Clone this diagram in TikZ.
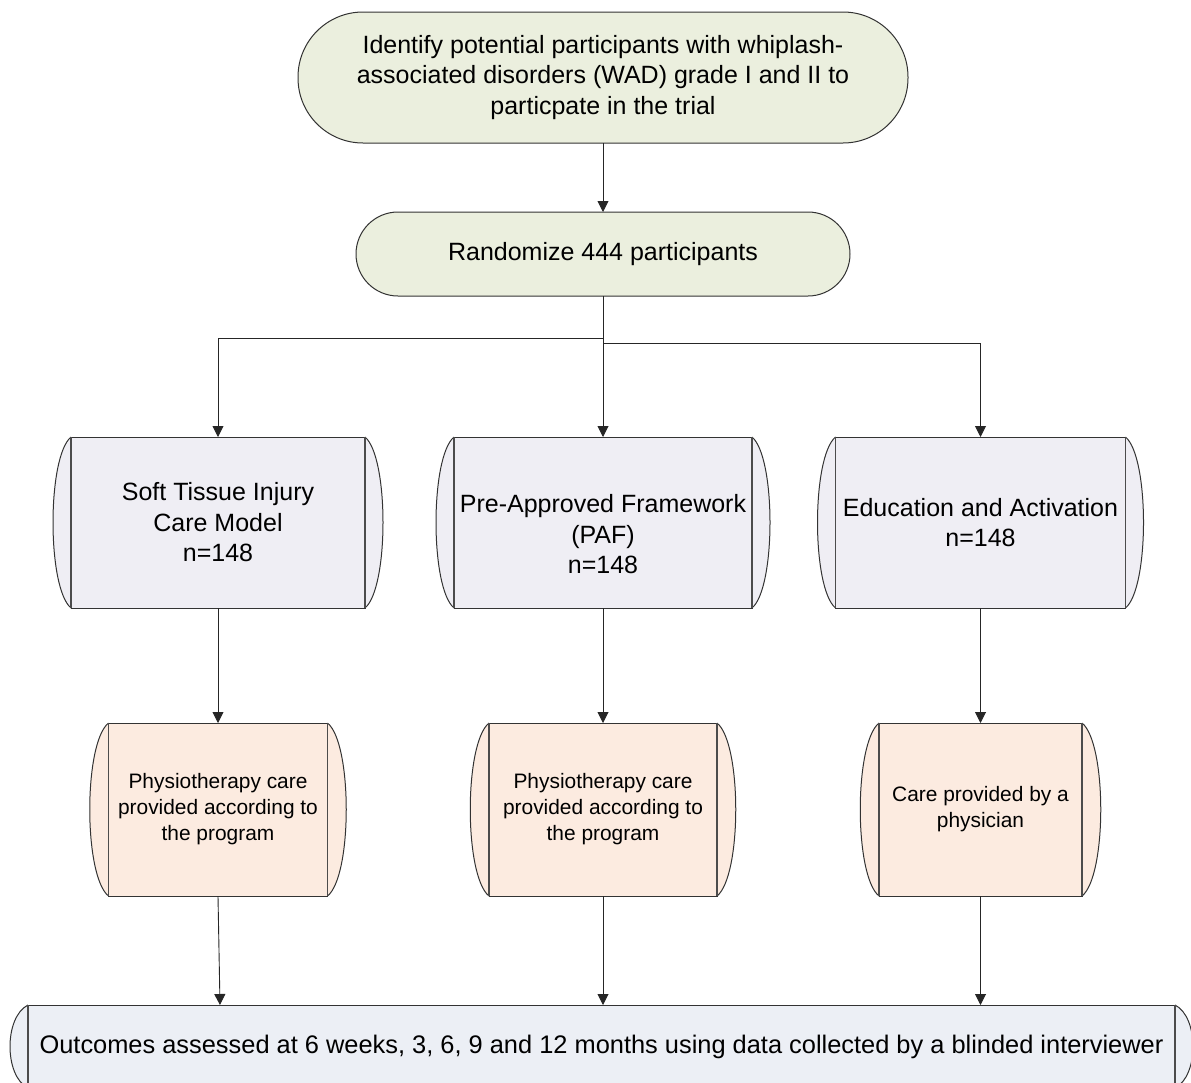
\documentclass[tikz,border=0pt]{standalone}
\usepackage{fontspec}
\setmainfont{Liberation Sans}
\usepackage{tikz}
\usetikzlibrary{arrows.meta}

\definecolor{startgreen}{HTML}{EBEFDE}
\definecolor{armgrey}{HTML}{EFEEF4}
\definecolor{carepeach}{HTML}{FCEBE0}
\definecolor{outblue}{HTML}{ECEFF5}

\newcommand{\flowbig}{\fontsize{25pt}{30.5pt}\selectfont}
\newcommand{\flowsmall}{\fontsize{20.9pt}{26pt}\selectfont}

\tikzset{
  flowline/.style={draw=black!85, line width=0.9pt, -{Triangle[width=11pt,length=11pt]}},
  terminal/.style={draw=black!80, line width=1pt, fill=startgreen, align=center,
    inner sep=0pt, outer sep=0pt, font=\flowbig},
  armbox/.style={draw=black!80, line width=1pt, fill=armgrey, align=center,
    inner sep=0pt, outer sep=0pt, minimum height=171pt, font=\flowbig},
  carebox/.style={draw=black!80, line width=1pt, fill=carepeach, align=center,
    inner sep=0pt, outer sep=0pt, minimum height=173pt, font=\flowsmall},
  outbox/.style={draw=black!80, line width=1pt, fill=outblue, align=center,
    inner sep=0pt, outer sep=0pt, font=\fontsize{25.4pt}{30.5pt}\selectfont},
  bulge/.style={draw=black!80, line width=1pt},
  innerline/.style={draw=black!70, line width=1.4pt}
}

\begin{document}
\begin{tikzpicture}[x=1pt,y=-1pt]
\useasboundingbox (0,0) rectangle (1191,1082);

% start of the trial
\node[terminal, minimum width=610pt, minimum height=131pt, rounded corners=65pt] (identify) at (603,77.5)
  {Identify potential participants with whiplash-\\associated disorders (WAD) grade I and II to\\particpate in the trial};
\node[terminal, minimum width=494pt, minimum height=84pt, rounded corners=42pt] (randomize) at (603,254)
  {Randomize 444 participants};

% three arms
\node[armbox, minimum width=294pt] (stic) at (218,522.5) {Soft Tissue Injury\\Care Model\\n=148};
\node[armbox, minimum width=298pt] (paf)  at (603,522.5) {\mbox{}\\[11pt]Pre-Approved Framework\\(PAF)\\n=148};
\node[armbox, minimum width=290pt] (edu)  at (980.5,522.5) {Education and Activation\\n=148};

\filldraw[bulge, fill=armgrey] (stic.north east) .. controls +(24,20) and +(24,-20) .. (stic.south east);
\filldraw[bulge, fill=armgrey] (stic.north west) .. controls +(-24,20) and +(-24,-20) .. (stic.south west);
\filldraw[bulge, fill=armgrey] (paf.north east) .. controls +(24,20) and +(24,-20) .. (paf.south east);
\filldraw[bulge, fill=armgrey] (paf.north west) .. controls +(-24,20) and +(-24,-20) .. (paf.south west);
\filldraw[bulge, fill=armgrey] (edu.north east) .. controls +(24,20) and +(24,-20) .. (edu.south east);
\filldraw[bulge, fill=armgrey] (edu.north west) .. controls +(-24,20) and +(-24,-20) .. (edu.south west);
\draw[innerline] (stic.north east) -- (stic.south east);
\draw[innerline] (stic.north west) -- (stic.south west);
\draw[innerline] (paf.north east) -- (paf.south east);
\draw[innerline] (paf.north west) -- (paf.south west);
\draw[innerline] (edu.north east) -- (edu.south east);
\draw[innerline] (edu.north west) -- (edu.south west);

% care given in each arm
\node[carebox, minimum width=219pt] (care1) at (218,809.5) {Physiotherapy care\\provided according to\\the program};
\node[carebox, minimum width=228pt] (care2) at (603,809.5) {Physiotherapy care\\provided according to\\the program};
\node[carebox, minimum width=203pt] (care3) at (980.5,809.5) {Care provided by a\\physician};

\filldraw[bulge, fill=carepeach] (care1.north east) .. controls +(25,20) and +(25,-20) .. (care1.south east);
\filldraw[bulge, fill=carepeach] (care1.north west) .. controls +(-25,20) and +(-25,-20) .. (care1.south west);
\filldraw[bulge, fill=carepeach] (care2.north east) .. controls +(25,20) and +(25,-20) .. (care2.south east);
\filldraw[bulge, fill=carepeach] (care2.north west) .. controls +(-25,20) and +(-25,-20) .. (care2.south west);
\filldraw[bulge, fill=carepeach] (care3.north east) .. controls +(25,20) and +(25,-20) .. (care3.south east);
\filldraw[bulge, fill=carepeach] (care3.north west) .. controls +(-25,20) and +(-25,-20) .. (care3.south west);
\draw[innerline] (care1.north east) -- (care1.south east);
\draw[innerline] (care1.north west) -- (care1.south west);
\draw[innerline] (care2.north east) -- (care2.south east);
\draw[innerline] (care2.north west) -- (care2.south west);
\draw[innerline] (care3.north east) -- (care3.south east);
\draw[innerline] (care3.north west) -- (care3.south west);

% outcomes
\node[outbox, minimum width=1147pt, minimum height=83pt] (outcome) at (601.5,1046.5)
  {Outcomes assessed at 6 weeks, 3, 6, 9 and 12 months using data collected by a blinded interviewer};
\filldraw[bulge, fill=outblue] (outcome.north east) .. controls +(24,12) and +(24,-12) .. (outcome.south east);
\filldraw[bulge, fill=outblue] (outcome.north west) .. controls +(-24,12) and +(-24,-12) .. (outcome.south west);
\draw[innerline] (outcome.north east) -- (outcome.south east);
\draw[innerline] (outcome.north west) -- (outcome.south west);

% connectors
\coordinate (splitL) at (603,338);
\coordinate (splitR) at (603,343);
\draw[flowline] (identify.south) -- (randomize.north);
\draw[flowline] (randomize.south) -- (splitL) -| (stic.north);
\draw[flowline] (randomize.south) -- (paf.north);
\draw[flowline] (splitR) -| (edu.north);
\draw[flowline] (stic.south) -- (care1.north);
\draw[flowline] (paf.south) -- (care2.north);
\draw[flowline] (edu.south) -- (care3.north);
\draw[flowline] (care1.south) -- ([xshift=2pt]care1.south |- outcome.north);
\draw[flowline] (care2.south) -- (care2.south |- outcome.north);
\draw[flowline] (care3.south) -- (care3.south |- outcome.north);
\end{tikzpicture}
\end{document}
